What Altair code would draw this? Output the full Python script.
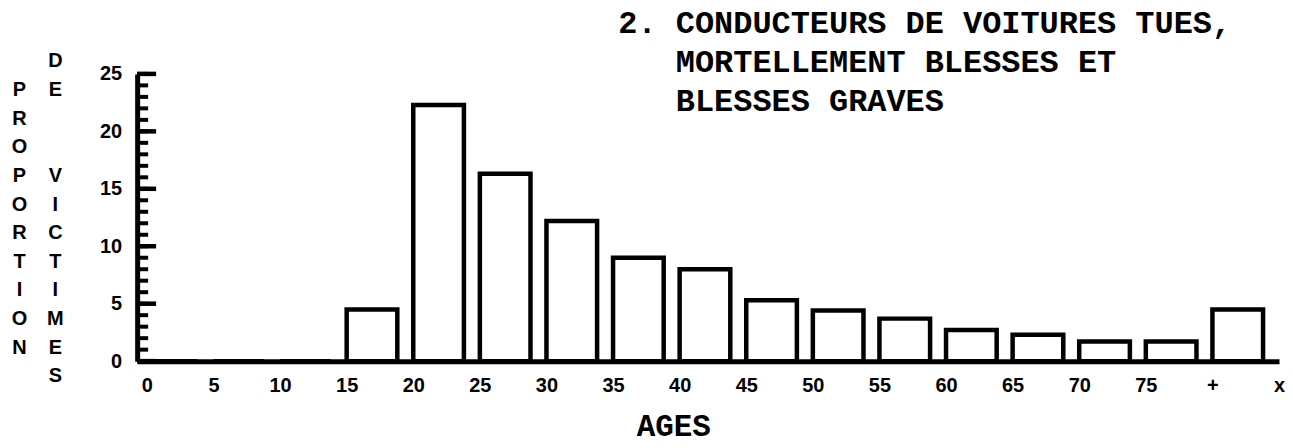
import json
import altair as alt
import pandas as pd

# ---- data ----
bin_start = [0, 5, 10, 15, 20, 25, 30, 35, 40, 45, 50, 55, 60, 65, 70, 75, 80]
proportion = [0, 0, 0, 4.5, 22.3, 16.3, 12.2, 9.0, 8.0, 5.3, 4.4, 3.7, 2.7, 2.3, 1.7, 1.7, 4.5]
bin_width = 5

x_tick_values = [0, 5, 10, 15, 20, 25, 30, 35, 40, 45, 50, 55, 60, 65, 70, 75, 80, 85]
x_tick_labels = ["0", "5", "10", "15", "20", "25", "30", "35", "40", "45", "50",
                 "55", "60", "65", "70", "75", "+", "x"]
y_tick_values = [0, 5, 10, 15, 20, 25]
y_minor_ticks = list(range(0, 26))
y_major_ticks = [0, 5, 10, 15, 20, 25]

NB = "\u00a0"
ZW = "\u200b"
title_lines = ["2. CONDUCTEURS DE VOITURES TUES,",
               ZW + NB * 3 + "MORTELLEMENT BLESSES ET",
               ZW + NB * 3 + "BLESSES GRAVES"]
ytitle_col1 = list("PROPORTION")
ytitle_col2a = list("DE")
ytitle_col2b = list("VICTIMES")
x_title = "AGES"

# ---- tables ----
bars = pd.DataFrame({
    "start": bin_start,
    "end": [s + bin_width for s in bin_start],
    "value": proportion,
})
minor = pd.DataFrame({"v": y_minor_ticks})
major = pd.DataFrame({"v": y_major_ticks})

x_scale = alt.Scale(domain=[-0.73, 85], nice=False, zero=False)
y_scale = alt.Scale(domain=[0, 25], nice=False, zero=True)

label_expr = f"{json.dumps(x_tick_labels)}[indexof({json.dumps(x_tick_values)}, datum.value)]"

SANS = "Liberation Sans"
MONO = "Liberation Mono"

y_axis = alt.Axis(
    values=y_tick_values, ticks=False, tickSize=0, domainWidth=5, domainColor="black",
    grid=False, labelFont=SANS, labelFontSize=20, labelFontWeight="bold",
    labelColor="black", labelPadding=15.5, labelAlign="right", labelBaseline="middle",
    title=None)

bar_layer = alt.Chart(bars).mark_rect(
    fill="white", stroke="black", strokeWidth=4.5, strokeJoin="miter", x2Offset=-16
).encode(
    x=alt.X("start:Q", scale=x_scale, axis=alt.Axis(
        values=x_tick_values, labelExpr=label_expr, ticks=False, tickSize=0,
        domainWidth=5, domainColor="black", grid=False,
        labelFont=SANS, labelFontSize=20, labelFontWeight="bold", labelColor="black",
        labelPadding=30.5, labelBaseline="alphabetic", labelFlush=False, labelOverlap=False,
        title=x_title, titleFont=MONO, titleFontSize=31, titleFontWeight="bold",
        titleColor="black", titleX=537.5, titleY=75, titleAlign="center",
        titleBaseline="alphabetic")),
    x2="end:Q",
    y=alt.Y("value:Q", scale=y_scale, axis=y_axis),
    y2=alt.datum(0),
)

minor_layer = alt.Chart(minor).mark_tick(
    color="black", opacity=1, thickness=4, size=11, orient="horizontal"
).encode(
    y=alt.Y("v:Q", scale=y_scale, axis=y_axis),
    x=alt.value(5.5),
)
major_layer = alt.Chart(major).mark_tick(
    color="black", opacity=1, thickness=4.5, size=19, orient="horizontal"
).encode(
    y=alt.Y("v:Q", scale=y_scale, axis=y_axis),
    x=alt.value(9.5),
)


def letter_column(letters, x, y):
    return alt.Chart(alt.Data(values=[{"k": 0}])).mark_text(
        text=letters, font=SANS, fontSize=20, fontWeight="bold", color="black",
        align="center", baseline="alphabetic", lineHeight=28.7
    ).encode(x=alt.value(x), y=alt.value(y))


col1 = letter_column(ytitle_col1, -118, 22.2)
col2a = letter_column(ytitle_col2a, -82, -6.5)
col2b = letter_column(ytitle_col2b, -82, -6.5 + 4 * 28.7)

chart = alt.layer(bar_layer, minor_layer, major_layer, col1, col2a, col2b).properties(
    width=1144.9, height=288,
    padding={"left": 129.5, "top": 65.5, "right": 6, "bottom": 78.5},
    autosize=alt.AutoSizeParams(type="none"),
    background="white",
    title=alt.TitleParams(
        text=title_lines, font=MONO, fontSize=32, fontWeight="bold", color="black",
        anchor="start", frame="group", dx=482.5, dy=67, lineHeight=39.5, offset=0),
).configure_view(stroke=None)

chart.save("out.html", embed_options={"renderer": "svg", "actions": False})
